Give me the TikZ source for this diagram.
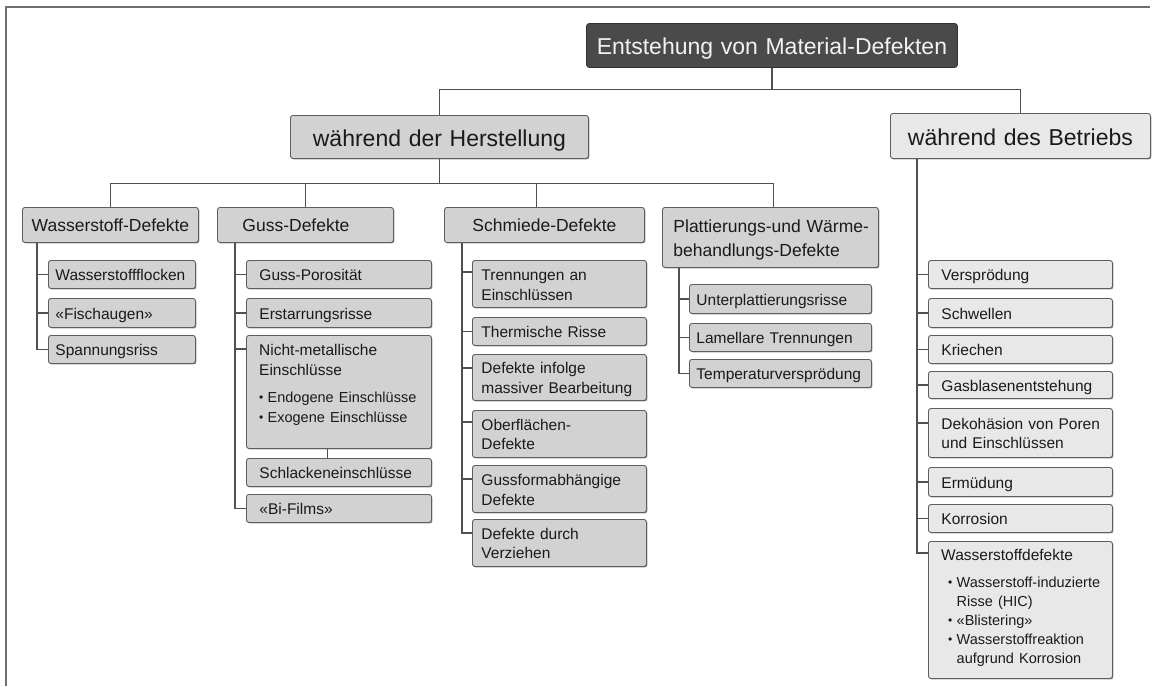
\documentclass[tikz,border=0pt]{standalone}
\usepackage{fontspec}
\setmainfont{Liberation Sans}
\usetikzlibrary{shadows,backgrounds}
\hyphenpenalty=10000 \exhyphenpenalty=10000
\definecolor{lin}{HTML}{505050}
\definecolor{bord}{HTML}{5E5E5E}
\definecolor{fillH}{HTML}{D2D2D2}
\definecolor{fillB}{HTML}{E8E8E8}
\definecolor{rootfill}{HTML}{4A4A4A}
\definecolor{roottxt}{HTML}{F2F2F2}
\definecolor{txt}{HTML}{1A1A1A}
\definecolor{framec}{HTML}{707070}
\newcommand\stt{\rule[-0.2em]{0pt}{1.2em}}
\newcommand\mb[1]{\mbox{#1}}
\newcommand\fb{\fontsize{14.5}{19}\selectfont}
\newcommand\bul{\makebox[8.5pt][l]{\raisebox{0.6pt}{\fontsize{12}{12}\selectfont\textbullet}}}
\newcommand\bx[8]{%
  \pgfmathsetmacro\bxw{#4-#2}%
  \pgfmathsetmacro\bxh{#5-#3}%
  \pgfmathsetmacro\bxt{#4-#2-2*#6}%
  \node[anchor=north west,inner xsep=#6pt,inner ysep=0pt,text width=\bxt pt,
        minimum width=\bxw pt,minimum height=\bxh pt,align=left,#7] (#1) at (#2,#3) {\stt#8\stt};}
\begin{document}
\begin{tikzpicture}[x=1pt,y=-1pt,
  conn/.style={draw=lin,line width=1.1pt},
  frame/.style={draw=framec,line width=1.4pt},
  box/.style={draw=bord,line width=0.9pt,rounded corners=2.5pt,text=txt,
    drop shadow={shadow xshift=0.9pt,shadow yshift=-1pt,fill=black!80,opacity=0.55}},
  hbx/.style={box,fill=fillH},
  bbx/.style={box,fill=fillB},
  rt/.style={draw=black!80,line width=0.9pt,rounded corners=3pt,fill=rootfill,text=roottxt,
    font=\fontsize{23}{27}\selectfont,align=center},
  f1/.style={font=\fontsize{23}{27}\selectfont,align=center},
  f2/.style={font=\fontsize{17.5}{24}\selectfont},
  f3/.style={font=\fontsize{15.5}{18}\selectfont},
]
\useasboundingbox (0,0) rectangle (1158,686);
\draw[frame] (6,686) -- (6,7) -- (1150,7);

% top levels
\bx{root}{586}{23}{957}{67}{6}{rt}{Entstehung von Material-Defekten}
\bx{hers}{290}{115}{588}{158}{6}{hbx,f1}{während der Herstellung}
\bx{betr}{890}{113}{1150}{158}{6}{bbx,f1}{während des Betriebs}

% level 2
\bx{wd}{22}{207}{198}{242}{4}{hbx,f2,align=center}{Wasserstoff-Defekte}
\bx{gd}{217}{207}{393}{242}{25}{hbx,f2}{Guss-Defekte}
\bx{sd}{444}{207}{644}{242}{6}{hbx,f2,align=center}{Schmiede-Defekte}
\bx{pd}{662}{207}{878}{267}{11}{hbx,f2}{\mb{Plattierungs-und Wärme-}\\behandlungs-Defekte}

% Wasserstoff-Defekte
\bx{w1}{48}{260}{195}{288}{7}{hbx,f3}{Wasserstoffflocken}
\bx{w2}{48}{298}{195}{327}{7}{hbx,f3}{«Fischaugen»}
\bx{w3}{48}{335}{195}{363}{7}{hbx,f3}{Spannungsriss}

% Guss-Defekte
\bx{g1}{246}{260}{431}{288}{13}{hbx,f3}{Guss-Porosität}
\bx{g2}{246}{298}{431}{327}{13}{hbx,f3}{Erstarrungsrisse}
\node[hbx,anchor=north west,minimum width=185pt,minimum height=113pt,inner sep=0pt] (nm) at (246,335) {};
\node[anchor=north west,inner sep=0pt,text width=175pt,align=left,text=txt,
      font=\fontsize{15.5}{20}\selectfont] (nmt) at (259,340)
  {\stt Nicht-metallische\\Einschlüsse\\[6.6pt]{\fb\bul Endogene Einschlüsse}\\{\fb\bul Exogene Einschlüsse}};
\bx{g4}{246}{458}{431}{486}{13}{hbx,f3}{Schlackeneinschlüsse}
\bx{g5}{246}{494}{431}{522}{13}{hbx,f3}{«Bi-Films»}

% Schmiede-Defekte
\bx{s1}{472}{260}{646}{307}{9}{hbx,f3}{\mb{Trennungen an}\\Einschlüssen}
\bx{s2}{472}{317}{646}{345}{9}{hbx,f3}{\mb{Thermische Risse}}
\bx{s3}{472}{354}{646}{400}{9}{hbx,f3}{\mb{Defekte infolge}\\\mb{massiver Bearbeitung}}
\bx{s4}{472}{410}{646}{457}{9}{hbx,f3}{Oberflächen-\\Defekte}
\bx{s5}{472}{465}{646}{512}{9}{hbx,f3}{Gussformabhängige\\Defekte}
\bx{s6}{472}{519}{646}{566}{9}{hbx,f3}{\mb{Defekte durch}\\Verziehen}

% Plattierungs
\bx{p1}{689}{284}{871}{313}{7}{hbx,f3}{Unterplattierungsrisse}
\bx{p2}{689}{323}{871}{351}{7}{hbx,f3}{\mb{Lamellare Trennungen}}
\bx{p3}{689}{359}{871}{387}{7}{hbx,f3}{Temperaturversprödung}

% Betrieb
\bx{b1}{928}{260}{1112}{288}{13}{bbx,f3}{Versprödung}
\bx{b2}{928}{298}{1112}{327}{13}{bbx,f3}{Schwellen}
\bx{b3}{928}{335}{1112}{363}{13}{bbx,f3}{Kriechen}
\bx{b4}{928}{371}{1112}{398}{13}{bbx,f3}{Gasblasenentstehung}
\bx{b5}{928}{408}{1112}{457}{13}{bbx,f3}{\mb{Dekohäsion von Poren}\\\mb{und Einschlüssen}}
\bx{b6}{928}{467}{1112}{496}{13}{bbx,f3}{Ermüdung}
\bx{b7}{928}{504}{1112}{532}{13}{bbx,f3}{Korrosion}
\node[bbx,anchor=north west,minimum width=184pt,minimum height=137pt,inner sep=0pt] (wsd) at (928,541) {};
\node[anchor=north west,inner sep=0pt,text width=170pt,align=left,text=txt,
      font=\fontsize{15.5}{19}\selectfont] (wsdt) at (941,545)
  {\stt Wasserstoffdefekte\\[7.7pt]{\fb\hspace*{7pt}\bul Wasserstoff-induzierte}\\{\fb\hspace*{15.5pt}Risse (HIC)}\\{\fb\hspace*{7pt}\bul «Blistering»}\\{\fb\hspace*{7pt}\bul Wasserstoffreaktion}\\{\fb\hspace*{15.5pt}aufgrund Korrosion}};

\begin{pgfonlayer}{background}
% top connectors
\draw[conn] (root.south) -- ++(0,22) coordinate (rbus);
\draw[conn] (hers.north) |- (rbus) -| (betr.north);
% Herstellung bus
\draw[conn] (hers.south) -- ++(0,25) coordinate (hbus);
\draw[conn] (wd.north) |- (hbus) -| ([xshift=3pt]pd.north);
\draw[conn] (gd.north) -- ++(0,-24);
\draw[conn] ([xshift=-8pt]sd.north) -- ++(0,-24);
% Wasserstoff
\draw[conn] ([xshift=15pt]wd.south west) |- (w3.west);
\draw[conn] (w1.west) -- ++(-11,0);
\draw[conn] (w2.west) -- ++(-11,0);
% Guss
\draw[conn] ([xshift=18pt]gd.south west) |- (g5.west);
\draw[conn] (g1.west) -- ++(-11,0);
\draw[conn] (g2.west) -- ++(-11,0);
\draw[conn] ([yshift=-14pt]nm.north west) -- ++(-11,0);
\draw[conn] ([xshift=-11.5pt]nm.south) -- ([xshift=-11.5pt]g4.north);
% Schmiede
\draw[conn] ([xshift=18pt]sd.south west) |- ([yshift=-14pt]s6.north west);
\draw[conn] ([yshift=-12pt]s1.north west) -- ++(-10,0);
\draw[conn] (s2.west) -- ++(-10,0);
\draw[conn] ([yshift=-14pt]s3.north west) -- ++(-10,0);
\draw[conn] ([yshift=-12pt]s4.north west) -- ++(-10,0);
\draw[conn] ([yshift=-14pt]s5.north west) -- ++(-10,0);
% Plattierungs
\draw[conn] ([xshift=17pt]pd.south west) |- (p3.west);
\draw[conn] (p1.west) -- ++(-10,0);
\draw[conn] (p2.west) -- ++(-10,0);
% Betrieb
\draw[conn] ([xshift=27pt]betr.south west) |- ([yshift=-12pt]wsd.north west);
\draw[conn] (b1.west) -- ++(-11,0);
\draw[conn] (b2.west) -- ++(-11,0);
\draw[conn] (b3.west) -- ++(-11,0);
\draw[conn] (b4.west) -- ++(-11,0);
\draw[conn] ([yshift=-15pt]b5.north west) -- ++(-11,0);
\draw[conn] (b6.west) -- ++(-11,0);
\draw[conn] (b7.west) -- ++(-11,0);
\end{pgfonlayer}
\end{tikzpicture}
\end{document}
